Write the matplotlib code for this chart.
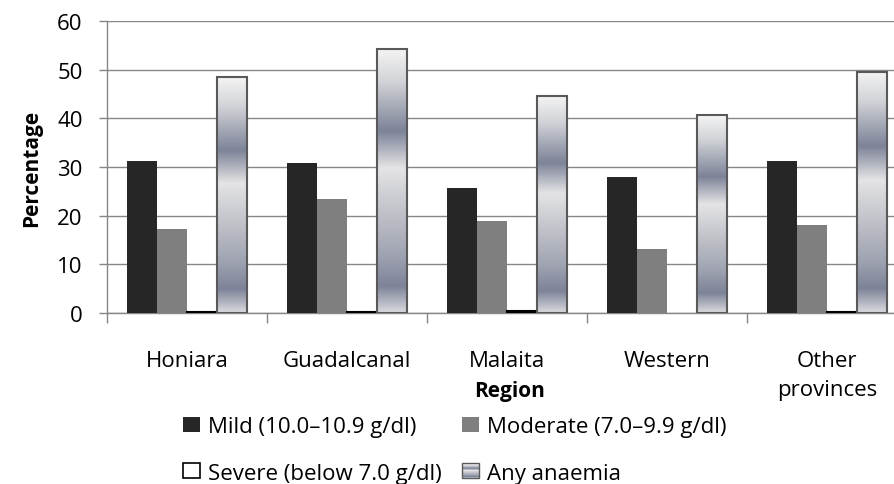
import numpy as np
import matplotlib.pyplot as plt
from matplotlib.colors import LinearSegmentedColormap
from matplotlib.patches import Rectangle, Patch
from matplotlib.legend_handler import HandlerBase

plt.rcParams['font.family'] = ['Open Sans', 'DejaVu Sans']

# data
regions = ['Honiara', 'Guadalcanal', 'Malaita', 'Western', 'Other\nprovinces']
mild = [31.2, 30.8, 25.6, 27.9, 31.2]
moderate = [17.3, 23.4, 19.0, 13.2, 18.1]
severe = [0.2, 0.2, 0.5, 0.0, 0.2]
any_anaemia = [48.4, 54.2, 44.6, 40.6, 49.6]
series_labels = ['Mild (10.0–10.9 g/dl)', 'Moderate (7.0–9.9 g/dl)',
                 'Severe (below 7.0 g/dl)', 'Any anaemia']
yticks = [0, 10, 20, 30, 40, 50, 60]

# "chrome" fill of the any-anaemia bars, top -> bottom
chrome = LinearSegmentedColormap.from_list('chrome', [
    (0.0, '#f4f4f4'), (0.12, '#d2d4d8'), (0.31, '#7d8398'), (0.45, '#e4e4e6'),
    (0.6, '#c4c6cc'), (0.78, '#a0a4b2'), (0.9, '#7d8398'), (1.0, '#dadbdf')])

grid_col = '#868686'


class GradientHandler(HandlerBase):
    def create_artists(self, legend, orig, xd, yd, width, height, fontsize, trans):
        parts = []
        n = 14
        for i in range(n):
            parts.append(Rectangle((-xd, -yd + height * (n - 1 - i) / n), width, height / n,
                                   facecolor=chrome((i + 0.5) / n), edgecolor='none',
                                   transform=trans))
        parts.append(Rectangle((-xd, -yd), width, height, facecolor='none',
                               edgecolor='#595959', lw=1.0, transform=trans))
        return parts


fig = plt.figure(figsize=(8.95, 4.85), dpi=100)
ax = fig.add_axes([107 / 895, 171 / 485, 800 / 895, 292 / 485])

x = np.arange(len(regions))
w = 0.1875
ax.bar(x - 1.5 * w, mild, w, color='#262626', zorder=3)
ax.bar(x - 0.5 * w, moderate, w, color='#7f7f7f', zorder=3)
ax.bar(x + 0.5 * w, severe, w, color='white',
       edgecolor=['black' if v > 0 else 'none' for v in severe], linewidth=1.5, zorder=3)
bars = ax.bar(x + 1.5 * w, any_anaemia, w, color='none', edgecolor='#595959',
              linewidth=1.5, zorder=4)
grad = np.linspace(0, 1, 256).reshape(-1, 1)
for b in bars:
    ax.imshow(grad, cmap=chrome, aspect='auto', zorder=3.5,
              extent=(b.get_x(), b.get_x() + b.get_width(), 0, b.get_height()))

ax.set_xlim(-0.5, 4.5)
ax.set_ylim(0, 60)
ax.set_yticks(yticks)
ax.yaxis.grid(True, color=grid_col, lw=1.0)
ax.set_axisbelow(True)
for s in ['top', 'right']:
    ax.spines[s].set_visible(False)
for s in ['left', 'bottom']:
    ax.spines[s].set_color(grid_col)
    ax.spines[s].set_linewidth(1.0)

ax.set_xticks(np.arange(-0.5, 4.6, 1.0))
ax.set_xticklabels([])
ax.set_xticks(x, minor=True)
ax.set_xticklabels(regions, minor=True, fontsize=16, linespacing=1.45)
ax.tick_params(axis='x', which='major', length=7, width=1, color=grid_col, direction='out')
ax.tick_params(axis='x', which='minor', length=0, pad=27)
ax.tick_params(axis='y', length=5.5, width=1, color=grid_col, labelsize=16, pad=12)

ax.set_ylabel('Percentage', fontsize=15, fontweight='bold', labelpad=11)
fig.text(510 / 895, 1 - 391 / 485, 'Region', ha='center', va='center',
         fontsize=15, fontweight='bold')

any_handle = Patch(facecolor='#b0b3bd')
handles = [Patch(facecolor='#262626'),
           Patch(facecolor='white', edgecolor='black', lw=1.2),
           Patch(facecolor='#7f7f7f'),
           any_handle]
labels = [series_labels[0], series_labels[2], series_labels[1], series_labels[3]]
fig.legend(handles, labels, loc='upper left', bbox_to_anchor=(172 / 895, 1 - 406 / 485),
           ncol=2, frameon=False, borderpad=0, fontsize=16, handlelength=0.78,
           handleheight=0.65, handletextpad=0.35, columnspacing=0.9, labelspacing=1.15,
           handler_map={any_handle: GradientHandler()})

fig.savefig('out.png', dpi=100)
